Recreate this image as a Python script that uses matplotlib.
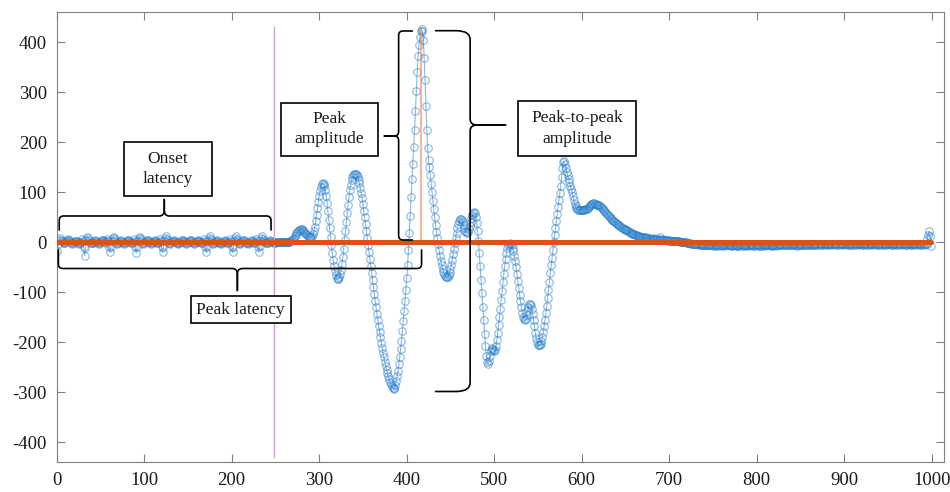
import numpy as np
import matplotlib
matplotlib.use("Agg")
import matplotlib.pyplot as plt
from matplotlib.path import Path
from matplotlib.patches import PathPatch, Rectangle

plt.rcParams['font.family'] = ['Liberation Serif', 'DejaVu Serif']
plt.rcParams['axes.unicode_minus'] = False

# ---------------- data ----------------
# baseline before the response, samples 1..254
onset_segment = [
    -17, -4, 5, 8, 5, 2, 0, -2, -1, 1,
    3, 5, 6, 4, 2, 0, -2, -3, -2, 0,
    2, 3, 2, 0, -2, -3, -1, 1, 6, 3,
    -10, -27, -12, 4, 11, 9, 4, 1, -1, -2,
    -1, 1, 3, 4, 3, 1, -1, -3, -2, 0,
    2, 4, 5, 3, 1, -1, 2, 6, 2, -10,
    -20, -9, 2, 8, 11, 7, 2, -1, -3, -2,
    0, 2, 4, 3, 1, -1, -3, -2, 0, 2,
    4, 5, 3, 1, -1, -2, 1, 6, 2, -10,
    -21, -9, 2, 8, 11, 7, 2, -1, -3, -2,
    0, 2, 4, 5, 3, 1, -1, -3, -2, 0,
    2, 4, 3, 1, -1, -2, 0, 6, 2, -10,
    -20, -9, 2, 8, 12, 7, 2, -1, -3, -2,
    0, 2, 3, 4, 3, 1, -1, -2, -3, -1,
    1, 3, 5, 4, 2, 0, -2, -3, -2, 0,
    2, 4, 5, 3, 1, -1, -3, -2, 0, 2,
    3, 4, 2, 0, -2, -2, 0, 6, 2, -10,
    -20, -9, 2, 8, 12, 7, 2, -1, -3, -2,
    0, 2, 4, 3, 1, -1, -2, -3, -1, 1,
    3, 4, 3, 1, -1, -2, 0, 6, 2, -10,
    -20, -9, 2, 8, 12, 7, 2, -1, -3, -2,
    0, 2, 4, 5, 3, 1, -1, -2, -3, -1,
    1, 3, 4, 2, 0, -2, -1, 6, 2, -9,
    -19, -8, 2, 8, 12, 7, 2, 0, -2, -2,
    -1, 1, 3, 4, 3, 1, 0, -1, -1, 0,
    0, 1, 1, 0,
]

# evoked response, samples 255..719
response_segment = [
    0, 0, 0, 1, 1, 1, 0, 0, 1, 1, 1,
    1, 2, 3, 5, 7, 9, 12, 15, 18, 20, 22, 24, 25, 26,
    26, 25, 23, 21, 18, 16, 14, 12, 11, 10,
    10, 11, 13, 17, 23, 31, 42, 55, 68, 81,
    93, 103, 111, 116, 118, 117, 112, 104, 92, 78,
    62, 45, 28, 11, -6, -21, -35, -48, -58, -66,
    -71, -73, -73, -70, -64, -55, -43, -29, -13, 4,
    22, 40, 58, 75, 91, 104, 115, 124, 130, 134,
    136, 137, 137, 135, 131, 125, 118, 109, 99, 88,
    76, 63, 50, 36, 22, 8, -6, -20, -34, -48,
    -62, -76, -90, -104, -117, -130, -143, -155, -167, -179,
    -190, -201, -211, -221, -230, -239, -247, -255, -262, -268,
    -274, -279, -284, -288, -291, -293, -291, -286, -278, -268,
    -257, -244, -230, -214, -197, -178, -158, -138, -117, -95,
    -72, -46, -16, 18, 53, 90, 126, 157, 190, 225,
    262, 302, 340, 372, 395, 410, 422, 427, 422, 404,
    368, 324, 272, 225, 188, 165, 150, 134, 117, 100,
    83, 66, 50, 35, 21, 8, -4, -16, -27, -37,
    -46, -53, -59, -64, -67, -69, -70, -69, -66, -61,
    -54, -45, -35, -24, -13, -2, 9, 19, 28, 36,
    42, 46, 47, 45, 40, 34, 28, 23, 20, 19,
    21, 26, 33, 41, 49, 55, 59, 60, 58, 50,
    38, 22, 2, -22, -48, -75, -102, -129, -156, -183,
    -208, -228, -240, -243, -238, -228, -218, -213, -212, -215,
    -218, -216, -208, -196, -182, -166, -150, -133, -115, -97,
    -80, -63, -47, -33, -21, -12, -6, -3, -2, -3,
    -6, -11, -18, -27, -38, -50, -63, -77, -91, -105,
    -118, -130, -141, -149, -154, -156, -153, -146, -137, -129,
    -124, -123, -126, -133, -143, -155, -168, -181, -192, -200,
    -205, -206, -206, -204, -198, -190, -180, -168, -155, -142,
    -128, -112, -96, -79, -62, -46, -31, -16, 0, 15,
    29, 43, 57, 71, 85, 99, 113, 130, 148, 160,
    162, 157, 149, 141, 134, 127, 120, 113, 107, 100,
    92, 84, 77, 72, 68, 66, 65, 65, 65, 65,
    65, 65, 65, 65, 66, 66, 67, 69, 71, 73,
    75, 76, 77, 78, 78, 77, 76, 75, 75, 75,
    74, 73, 71, 69, 67, 65, 63, 61, 58, 56,
    54, 52, 50, 48, 47, 45, 43, 42, 40, 39,
    37, 36, 35, 33, 32, 30, 29, 29, 27, 26,
    25, 24, 24, 22, 21, 20, 19, 19, 17, 17,
    16, 15, 15, 14, 13, 12, 13, 11, 11, 10,
    10, 11, 9, 9, 10, 8, 8, 9, 7, 7,
    7, 8, 6, 6, 7, 6, 6, 5, 5, 10,
    6, 5, 5, 6, 4, 4, 5, 4, 4, 3,
    3, 4, 3, 3, 3, 2, 2, 3, 2, 2,
    2, 2, 1, 1, 1, 1, 0, 0, 0, 0,
]

# late baseline, samples 720..999
tail_segment = [
    -1, -1, -2, -2, -2, -3, -3, -3, -3, -4,
    -4, -4, -3, -4, -5, -4, -5, -5, -4, -5,
    -5, -6, -5, -5, -6, -5, -6, -6, -5, -6,
    -6, -7, -6, -6, -7, -6, -5, -6, -7, -6,
    -5, -6, -6, -7, -6, -5, -5, -6, -6, -5,
    -6, -7, -7, -6, -5, -6, -6, -7, -8, -7,
    -6, -6, -5, -6, -7, -7, -6, -5, -5, -6,
    -7, -6, -6, -5, -5, -6, -7, -7, -6, -5,
    -5, -6, -6, -7, -8, -7, -6, -6, -5, -6,
    -7, -6, -5, -5, -6, -6, -7, -7, -6, -5,
    -5, -6, -7, -6, -5, -5, -4, -5, -6, -6,
    -5, -4, -4, -5, -6, -5, -5, -4, -5, -6,
    -6, -5, -4, -4, -5, -6, -7, -6, -5, -4,
    -4, -5, -5, -6, -5, -4, -4, -5, -6, -5,
    -4, -4, -5, -5, -6, -5, -4, -3, -4, -5,
    -5, -4, -3, -3, -4, -5, -5, -4, -3, -4,
    -5, -5, -4, -3, -3, -4, -5, -4, -4, -3,
    -3, -4, -5, -5, -4, -3, -3, -4, -4, -5,
    -4, -3, -3, -4, -5, -5, -4, -3, -4, -5,
    -5, -4, -3, -3, -4, -5, -4, -4, -3, -4,
    -5, -5, -4, -3, -3, -4, -5, -5, -4, -3,
    -3, -4, -5, -4, -4, -3, -4, -5, -5, -4,
    -3, -3, -4, -5, -5, -4, -3, -4, -5, -4,
    -4, -3, -3, -4, -5, -5, -4, -3, -4, -5,
    -5, -4, -3, -3, -4, -5, -4, -4, -3, -4,
    -5, -5, -4, -3, -3, -4, -5, -5, -4, -3,
    -3, -4, -5, -4, -4, -3, -4, -5, -5, -4,
    -3, -4, -5, -4, -3, 6, 15, 22, 12, -8,
]

detector_level = 0.0          # orange trace (flat)
onset_marker_x = 248          # pink vertical line
onset_marker_span = (-430, 430)
peak_marker_x = 416           # orange vertical line
peak_marker_value = 427

x_ticks = list(range(0, 1001, 100))
y_ticks = list(range(-400, 401, 100))

# ---------------- figure ----------------
signal = np.array(onset_segment + response_segment + tail_segment, dtype=float)
samples = np.arange(1, len(signal) + 1)
detector = np.full(len(signal), detector_level)

fig = plt.figure(figsize=(9.5, 4.92), dpi=100)
ax = fig.add_axes([0.0596, 0.061, 0.9937 - 0.0596, 0.9746 - 0.061])

ax.plot(samples, signal, color='#2a7fcc', alpha=0.55, lw=0.8,
        marker='o', ms=5.4, mfc='none', mec='#2a7fcc', mew=0.8, zorder=2)
ax.plot(samples, detector, color='#D95319', lw=1.5, marker='o', ms=3.3,
        mfc='#D95319', mec='#D95319', mew=0.3, zorder=4)
ax.plot([onset_marker_x, onset_marker_x], onset_marker_span,
        color='#DE9ACB', lw=1.0, zorder=3)
ax.plot([peak_marker_x, peak_marker_x], [detector_level, peak_marker_value],
        color='#F08A5C', alpha=0.6, lw=1.6, zorder=3)

ax.set_xlim(0, 1014)
ax.set_ylim(-439, 460)
ax.set_xticks(x_ticks)
ax.set_yticks(y_ticks)
ax.tick_params(direction='in', top=True, right=True, length=6, width=0.8,
               color='#808080', labelsize=13.5, labelcolor='#1a1a1a', pad=7)
for sp in ax.spines.values():
    sp.set_color('#808080')
    sp.set_linewidth(0.8)


def brace(ax, a0, a1, am, p_end, p_line, p_tip, end_ra, end_rp, tip_ra, tip_rp,
          vertical=False, lw=1.2):
    s = np.sign(p_tip - p_line)
    halves = []
    for a_end, d in ((a0, 1), (a1, -1)):
        pts = [(a_end, p_end),
               (a_end, p_line - s * end_rp),
               (a_end, p_line), (a_end + d * end_ra, p_line),
               (am - d * tip_ra, p_line),
               (am, p_line), (am, p_line + s * tip_rp),
               (am, p_tip)]
        codes = [Path.MOVETO, Path.LINETO, Path.CURVE3, Path.CURVE3,
                 Path.LINETO, Path.CURVE3, Path.CURVE3, Path.LINETO]
        if vertical:
            pts = [(p, a) for a, p in pts]
        halves.append(Path(pts, codes))
    for pth in halves:
        ax.add_patch(PathPatch(pth, fill=False, ec='black', lw=lw,
                               capstyle='round', joinstyle='round', zorder=6))


def label_box(ax, x0, x1, y0, y1, text):
    ax.add_patch(Rectangle((x0, y0), x1 - x0, y1 - y0, fc='white', ec='black',
                           lw=1.2, zorder=7))
    ax.text((x0 + x1) / 2, (y0 + y1) / 2, text, ha='center', va='center',
            fontsize=12.5, color='#1a1a1a', linespacing=1.35, zorder=8)


# Onset latency (horizontal, tip up)
brace(ax, 3, 245, 123, 25, 53, 86, 5, 9, 6, 11)
label_box(ax, 77.3, 177, 93, 201.6, 'Onset\nlatency')

# Peak latency (horizontal, tip down)
brace(ax, 2, 417, 206.5, -15, -52, -96, 5, 9, 6, 11)
label_box(ax, 153.2, 267.3, -161, -108, 'Peak latency')

# Peak amplitude (vertical, tip left)
brace(ax, 5, 423, 213, 406.5, 390.8, 374.5, 9, 5, 9, 5, vertical=True)
label_box(ax, 256.7, 366.8, 173, 279.6, 'Peak\namplitude')

# Peak-to-peak amplitude (vertical, tip right)
brace(ax, -298, 423.6, 235, 433, 472.5, 513, 18, 16, 12, 8, vertical=True)
label_box(ax, 527.6, 661.5, 173, 283, 'Peak-to-peak\namplitude')

fig.savefig('out.png', dpi=100)
